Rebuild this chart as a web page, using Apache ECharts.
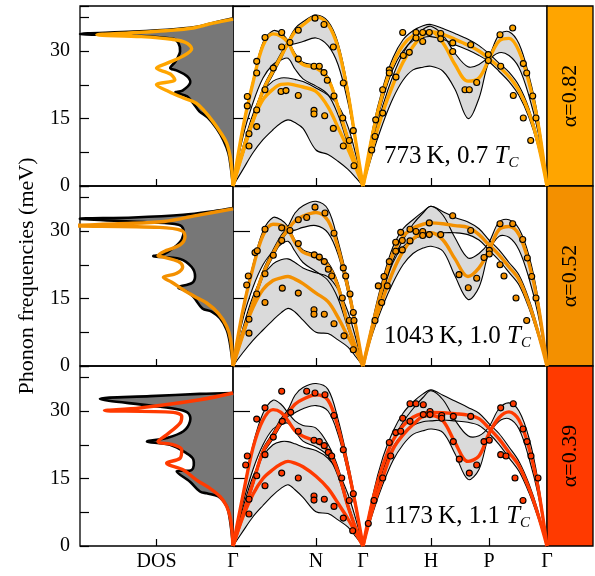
<!DOCTYPE html>
<html><head><meta charset="utf-8">
<script src="https://cdn.jsdelivr.net/npm/echarts@6/dist/echarts.min.js"></script>
<style>html,body{margin:0;padding:0;background:#fff}#c{width:595px;height:576px}</style>
</head><body><div id="c"></div>
<script>
// ---------- path coordinates & labels ----------
const kGN = [0,10,20,30,40,48,55,62,70,83,95,105,115,123,130];
const kGHPG = [130,140,150,160,170,180,190,198,210,222,235,246,256,266,276,286,296,305,314];
const kTicks = [0,83,130,198,256,314];
const kTickLabels = ['Γ','N','Γ','H','P','Γ'];
const tempLabels = ['773\u2009K, 0.7 ','1043\u2009K, 1.0 ','1173\u2009K, 1.1 '];
const alphaLabels = ['α=0.82','α=0.52','α=0.39'];

// ---------- 773 K ----------
const gnLAlo773 = [0,7,14,20.6,24.8,28.2,31.2,31.6,32.1,32.9,31.2,27,18.5,9,0];
const gnLAhi773 = [0,7.8,15.2,21.8,26.2,29.5,32.2,35,36.5,38,36.6,31.8,21.6,10.2,0];
const gnLAmid773 = [0,7.5,14.5,21.2,25.5,28.8,31.7,34.3,35.8,37.6,35.9,30.8,20.5,9.5,0];
const gnT1lo773 = [0,11,18.5,24,27,28,28.4,26,23.8,22.2,20.3,15.8,9.2,4,0];
const gnT1hi773 = [0,13.5,23.6,31.9,34.5,34,32.4,29.5,27.5,26.7,24.3,18.2,10.9,5.2,0];
const gnT1mid773 = [0,13,23,31.2,33.8,33.3,31.9,28.9,27,26.2,23.8,17.6,10.3,4.8,0];
const gnT2lo773 = [0,3.7,7.4,10.3,12.5,14,14.7,14.1,12.8,8,7,5.5,3.7,1.8,0];
const gnT2hi773 = [0,8.8,16,21,23.3,24,24,23.7,23.2,21.8,20.2,18,13.2,6.8,0];
const gnT2mid773 = [0,8,14.5,19.2,21.5,22.6,22.7,22.4,22,21,17.6,13,8.2,4,0];
const hpAlo773 = [0,11,19.5,26,30,32.3,33,33.2,32.6,31.4,30.2,29,27.6,25.5,23.2,20.1,15.2,8.8,0];
const hpAhi773 = [0,13,22,28.5,32.5,34.5,35.6,35.9,35,33.9,32.6,31.2,29.4,27.3,25.3,22.3,17.2,10.3,0];
const hpAmid773 = [0,12,20.8,27.2,31.3,33.4,34.2,34.3,33.7,32.6,31.3,30,28.3,26.5,24.3,21.2,16.3,9.5,0];
const hpBlo773 = [0,7.5,14,19.5,23.5,25.8,26.4,26.6,25.5,21.5,15,19.5,27.6,29.6,29,26.3,20,12,0];
const hpBhi773 = [0,10,18,24.5,29.5,32.8,34.8,35.5,33.5,29.5,26.5,27,29,33.6,34.3,31.6,24.5,15.2,0];
const hpBmid773 = [0,9,16.5,22.5,27.5,31,33.5,34.3,31.8,27,23.3,24,28.2,32.2,32.8,30,23,14,0];
const dots773 = [[14.3,19.9],[14.3,17.8],[23.7,27.7],[23.7,25.1],[32,33],[48.7,34.1],[65.3,34.6],[57,31.9],[48.7,30.9],[40.3,26.2],[65.3,28.2],[82,37.3],[91,35.9],[100.3,30.9],[81,26.6],[86.3,26.6],[91,25.2],[94.3,23.5],[110.3,22.9],[101,20],[32,21.4],[23.7,16.9],[23.7,13.2],[16,11.6],[16,8.9],[48,21],[53,21.2],[65.3,20.1],[81,16.8],[81,16],[91.7,15.6],[100.3,12.8],[109.7,15.1],[110.3,8.9],[116.3,10.1],[120.3,12.3],[121,4.5],
 [138.7,8],[142,11],[142.7,14.7],[149.7,21.4],[149.7,16.2],[156.3,25.8],[156.3,25.1],[163,24.2],[169.7,34.1],[170.3,29],[176.3,29.7],[183,34.1],[183,32.9],[189.7,34.1],[189.7,32.1],[196.3,34.1],[207.7,33.9],[207.7,32.7],[219.7,31.8],[219.7,29.9],[237.7,31.4],[232,21.4],[236.3,21.4],[243.7,23],[255.3,29.2],[255.3,27.9],[267,33.6],[279.7,35.1],[267.7,26.6],[280.3,20.1],[290.3,27.2],[293.7,25.1],[299.7,20],[290.3,15.1],[303,15.1],[297.7,10.1]];
const dosE773 = [0,4.3,7.3,10.2,12.8,15.2,16.6,18.4,19.9,20.8,21.2,22.9,24.4,25.7,26.2,27.7,29.9,31.8,32.7,33.4,33.8,34.3,34.9,35.5,36.4,37.3];
const dos773 = [0,0.015,0.03,0.063,0.107,0.165,0.22,0.26,0.3,0.377,0.33,0.28,0.3,0.37,0.41,0.375,0.346,0.357,0.39,0.65,1.0,0.65,0.37,0.216,0.114,0];
const fitE773 = [0,5.8,9.5,12.1,14.3,16.6,18.4,19.5,21,22.5,23.6,24.9,26.2,27.3,28.8,30.5,31.9,32.6,33.2,33.6,34,34.5,35.1,36.2,37.1];
const fit773 = [0,0.015,0.041,0.085,0.13,0.185,0.24,0.32,0.42,0.5,0.38,0.41,0.5,0.43,0.33,0.27,0.31,0.4,0.6,0.89,0.68,0.44,0.26,0.13,0];

// ---------- 1043 K ----------
const gnLAlo1043 = [0,6.6,13.4,19.8,24.3,27.5,29.8,30.2,30.8,31.2,29.6,24.8,16.2,7.9,0];
const gnLAhi1043 = [0,7.4,14.6,21.2,25.8,29,31,34,35.6,36.6,34.8,27.8,18.6,9.4,0];
const gnLAmid1043 = [0,7,14,20.5,25,28.2,30.3,32.2,33.3,34.1,32.3,26.3,17.3,8.6,0];
const gnT1lo1043 = [0,10.5,17.5,22.5,25.5,27,27.7,25.5,23,21,19,15,8.3,3.6,0];
const gnT1hi1043 = [0,13,22.5,30,33,32.5,31,28,25.8,24.8,23,18.5,9.8,4.4,0];
const gnT1mid1043 = [0,12.5,21.8,29,31.5,31.3,30.3,27.5,25.3,24.2,22.3,17.7,9.2,4,0];
const gnT2lo1043 = [0,3,5.7,8,10.2,11.8,12.8,12,10.2,7.5,7.2,5.8,4.2,2,0];
const gnT2hi1043 = [0,8.5,15.5,20,22.7,23.6,23.8,23,21.8,20.7,19.8,17,12,6,0];
const gnT2mid1043 = [0,7.5,13,17,19,19.6,19.9,19.3,18.3,16.2,14.3,10.8,6.5,3.2,0];
const hpAlo1043 = [0,8.5,16.5,23,26.5,28.2,29,29.3,29.6,29.6,29.2,28,25.8,23.5,20.8,18,12.8,6.8,0];
const hpAhi1043 = [0,10.5,19.5,26.5,30.5,32.5,34.3,35.5,34.3,33,32,30.5,28,25.8,23,20.2,14.8,8.2,0];
const hpAmid1043 = [0,9.5,18,25,28.8,30.6,31.5,31.8,31.6,31.2,30.8,29.2,26.9,24.7,22,19.2,13.8,7.5,0];
const hpBlo1043 = [0,7.5,13.5,18.5,22.5,25,26.2,26.6,25.5,20,14.8,17.5,25.3,28.8,28.6,25.8,19.5,11.5,0];
const hpBhi1043 = [0,9.5,17,23.5,28,31.5,34,35.5,33.5,28.5,24,25,27.5,32,32.5,30.5,24.5,15,0];
const hpBmid1043 = [0,8.5,15,21,25.5,28.2,29.5,29.6,28,23.8,19.9,21.8,25.7,30.3,31,29.2,22.8,13.8,0];
const dots1043 = [[13.7,18],[15.3,20],[22,25.2],[24.3,25.6],[32,30.4],[48.7,30.7],[57,30.1],[48.7,27.9],[65.3,27.2],[65.3,32.5],[73.7,33],[82,35.3],[92,34],[101,29.5],[40.3,24.6],[81.3,24.7],[86.3,24.2],[91.3,23.2],[95.3,21.5],[98.7,20],[110.3,21.8],[112.7,20],[32,20.5],[23.7,16],[32,14.1],[16,10.4],[16,7.3],[49.3,17.3],[65.3,16.2],[81,12.5],[81,11.5],[91.3,11.5],[101,9.4],[109.3,15.1],[117,16],[116.3,10.1],[121,10.1],[120.3,11.9],[111,6.7],[120.3,3.6],
 [142,10.1],[145.3,17.8],[148.7,14.1],[151,19.9],[154.3,17.8],[156.3,23.2],[162.7,27.5],[167.7,29.7],[169.3,27.9],[169.3,25.8],[162.7,25.5],[177,27.8],[177,30.4],[183,29.9],[189.7,29.9],[189.7,29],[196.3,31.8],[196.3,29.2],[207.7,29.2],[219.7,33.4],[237.7,30.1],[226,20.3],[235.3,17.4],[243.7,19.5],[251,24.1],[256.3,25.7],[256.3,24.9],[267,31.6],[279.7,31.6],[267,22.5],[271,20],[289.7,28.1],[294.3,24],[298.7,19.9],[283,15.1],[303,15.1],[293.7,10.1]];
const dosE1043 = [0,5,8,10.6,12.1,12.8,15.4,16.6,17.5,18.4,19.9,22,23.8,24.4,24.9,26.2,28.1,30.3,31.4,31.9,32.7,33,33.6,34.4,35.1];
const dos1043 = [0,0.02,0.041,0.085,0.14,0.2,0.26,0.303,0.357,0.27,0.248,0.27,0.346,0.52,0.45,0.39,0.335,0.324,0.357,0.54,1.0,0.65,0.324,0.128,0];
const fitE1043 = [0,5.8,8.8,11.7,14,15.4,16.9,18.6,19.7,20.6,22,23.2,24.2,24.5,25.7,26.9,28.8,30.1,30.8,31.2,31.6,32.1,33.6,34.9];
const fit1043 = [0,0.015,0.041,0.096,0.172,0.248,0.324,0.4,0.455,0.368,0.329,0.357,0.455,0.49,0.434,0.346,0.314,0.335,0.48,1.05,0.75,0.45,0.216,0];

// ---------- 1173 K ----------
const gnLAlo1173 = [0,6.6,13.4,20.4,23.8,26.8,28.8,29.6,30.5,31.2,30,24.8,16.2,7.9,0];
const gnLAhi1173 = [0,7.4,14.6,21.6,25.2,28.3,30.3,33.5,35.2,36.1,34.8,28.2,18.6,9.4,0];
const gnLAmid1173 = [0,7,14,21,24.5,27.5,29.5,31.5,32.6,33.6,32.4,26.4,17.3,8.6,0];
const gnT1lo1173 = [0,9.5,17,22.5,26,27,27.3,25.5,23.3,22,20,15.5,8.3,3.5,0];
const gnT1hi1173 = [0,11.8,22.5,29.5,32.4,31.5,29.6,27.8,26.8,26.2,22.6,17.5,9.6,4.2,0];
const gnT1mid1173 = [0,11.3,21.8,28,30.3,29.7,27.8,25.6,24.4,23.2,21.2,16.5,8.8,3.8,0];
const gnT2lo1173 = [0,3.3,6.5,9,11.3,12.8,13.6,12.5,10.8,7.6,7.2,5.8,4.2,2,0];
const gnT2hi1173 = [0,8.5,15.5,20,22.5,23.2,23.2,22.7,22,21.2,19.5,16.5,11.5,5.8,0];
const gnT2mid1173 = [0,6.5,11.5,15,17,18.2,18.8,18.4,17.6,15.5,12.8,9.5,6,2.8,0];
const hpAlo1173 = [0,9.5,17,22,25,26.8,27.6,27.8,28,27.8,27.5,26.8,25,22.6,19.6,16.6,11.8,6.3,0];
const hpAhi1173 = [0,11.5,19.8,25.5,29.5,32,33.8,34.7,33.5,32.2,30.8,29.5,27.2,25,22,18.8,13.8,7.8,0];
const hpAmid1173 = [0,10.5,18,23.5,26.7,28.6,29.5,29.7,29.6,29.4,29.1,28.3,26.2,23.8,20.8,17.8,12.8,7,0];
const hpBlo1173 = [0,7.5,13.8,19,22.5,24.8,25.6,26,25.2,20.5,14.8,17,24.5,27.7,28.3,26,19.5,11.5,0];
const hpBhi1173 = [0,9.5,17,23.5,27.5,30.5,33,34.5,32.5,28,24.5,24.5,26.5,30.5,31.8,30,24,14.5,0];
const hpBmid1173 = [0,8.5,15.3,21.5,24.7,27,28.8,29,27.8,23,18.8,20,25,28.5,29.8,28,21.8,13,0];
const dots1173 = [[12.7,18],[14.3,20],[16,7.1],[16,10.4],[23.7,15.6],[23.7,28.2],[32,30.7],[32,20.3],[32,13.4],[40.3,24.2],[48.7,34.4],[48.7,16.2],[49.3,27.7],[57.7,29.7],[65.3,25.5],[65.3,15.1],[73.7,34.4],[82,34],[92,33.6],[101,29],[81,23.5],[86.3,23.2],[91.3,22.3],[95.3,20.8],[98.7,20],[110.3,21.4],[108.7,15.1],[81,11.1],[81,10.2],[91.3,10.4],[101,8.8],[110.3,6.2],[116.3,10.1],[120.3,11.6],[119.7,3.4],
 [135.3,5],[141,10.1],[149.7,15.1],[157.7,20],[156.3,23],[162.7,25.2],[167.7,25.5],[169.7,28.4],[177,27.7],[177,31.6],[183,31.6],[190.3,31.4],[190.3,29.2],[197,29.9],[197,29.2],[208.7,29],[208.7,28.4],[220.3,28.8],[220.3,23.2],[237.7,28.8],[226.3,19.3],[236.3,16.2],[243.7,18],[251,23.2],[256.3,23.5],[267.7,30.7],[280.3,31.6],[267.7,20.3],[273,20],[290,26],[294,23.2],[298,20],[282,15.1],[305,15.1],[290,10.1]];
const dosE1173 = [0,5.8,8.8,11,11.7,12.1,14.3,16.6,16.9,19.2,20.6,22.5,23.2,24,25.5,27.7,29.5,30.3,31.2,32.7,33.3,33.8,34];
const dos1173 = [0,0.02,0.041,0.096,0.172,0.216,0.281,0.368,0.27,0.259,0.303,0.412,0.562,0.434,0.324,0.281,0.292,0.346,0.54,0.87,0.54,0.216,0];
const fitE1173 = [0,5.8,8.8,11,12.8,14.7,16.9,18.4,19.5,21.4,22.5,23.2,24.7,27.3,28.8,29.7,30.1,30.7,32.5,34];
const fit1173 = [0,0.015,0.041,0.085,0.15,0.24,0.324,0.434,0.346,0.335,0.39,0.49,0.434,0.346,0.335,0.39,0.84,0.608,0.216,0];

// ---------- styling ----------
const FONT = 'Liberation Serif';
const rowColors = ['#FFA500','#F39000','#FF3A00'];
const S = 0.35;

const rows = [
  {gn:[[gnLAlo773,gnLAhi773,gnLAmid773],[gnT1lo773,gnT1hi773,gnT1mid773],[gnT2lo773,gnT2hi773,gnT2mid773]],
   hp:[[hpAlo773,hpAhi773,hpAmid773],[hpBlo773,hpBhi773,hpBmid773]], dots:dots773,
   dos:[dosE773,dos773], fit:[fitE773,fit773]},
  {gn:[[gnLAlo1043,gnLAhi1043,gnLAmid1043],[gnT1lo1043,gnT1hi1043,gnT1mid1043],[gnT2lo1043,gnT2hi1043,gnT2mid1043]],
   hp:[[hpAlo1043,hpAhi1043,hpAmid1043],[hpBlo1043,hpBhi1043,hpBmid1043]], dots:dots1043,
   dos:[dosE1043,dos1043], fit:[fitE1043,fit1043]},
  {gn:[[gnLAlo1173,gnLAhi1173,gnLAmid1173],[gnT1lo1173,gnT1hi1173,gnT1mid1173],[gnT2lo1173,gnT2hi1173,gnT2mid1173]],
   hp:[[hpAlo1173,hpAhi1173,hpAmid1173],[hpBlo1173,hpBhi1173,hpBmid1173]], dots:dots1173,
   dos:[dosE1173,dos1173], fit:[fitE1173,fit1173]}
];

function bandSeries(xi, yi, ks, lo, hi) {
  return {type:'custom', xAxisIndex:xi, yAxisIndex:yi, z:2, silent:true, data:[[0,0]],
    renderItem(params, api) {
      const up = ks.map((k,i)=>api.coord([k,hi[i]]));
      const dn = ks.map((k,i)=>api.coord([k,lo[i]]));
      const poly = up.concat(dn.slice(1,-1).reverse());
      return {type:'group', children:[
        {type:'polygon', z2:1, shape:{points:poly, smooth:S}, style:{fill:'#dadada'}},
        {type:'polyline', z2:20, shape:{points:up, smooth:S}, style:{stroke:'#000', lineWidth:1.1, fill:null}},
        {type:'polyline', z2:20, shape:{points:dn, smooth:S}, style:{stroke:'#000', lineWidth:1.1, fill:null}}
      ]};
    }};
}
function dosSeries(xi, yi, E, d) {
  return {type:'custom', xAxisIndex:xi, yAxisIndex:yi, z:2, silent:true, data:[[0,0]],
    renderItem(params, api) {
      const pts = E.map((e,i)=>api.coord([d[i], e]));
      const eTop = E[E.length-1];
      const poly = pts.concat([api.coord([0, eTop-0.8]), api.coord([0, 0.8])]);
      return {type:'group', children:[
        {type:'polygon', z2:1, shape:{points:poly, smooth:S}, style:{fill:'#777777'}},
        {type:'polyline', z2:20, shape:{points:pts, smooth:S}, style:{stroke:'#000', lineWidth:2.6, fill:null}}
      ]};
    }};
}
function lineSeries(xi, yi, data, color, z) {
  return {type:'line', xAxisIndex:xi, yAxisIndex:yi, data, smooth:S, showSymbol:false, symbol:'none',
    clip:false, z, silent:true, lineStyle:{color, width:3.4}};
}

const grid = [], xAxis = [], yAxis = [], series = [], graphic = [];
const tickStyle = {color:'#000', width:1.2};
rows.forEach((row, r) => {
  const top = 6 + 180*r;
  const color = rowColors[r];
  grid.push({left:80, top, width:153, height:180, show:true, borderColor:'#000', borderWidth:1.3, backgroundColor:'rgba(0,0,0,0)', containLabel:false, outerBoundsMode:'none'});
  grid.push({left:233, top, width:314, height:180, show:true, borderColor:'#000', borderWidth:1.3, backgroundColor:'rgba(0,0,0,0)', containLabel:false, outerBoundsMode:'none'});
  grid.push({left:547, top, width:46, height:180, show:true, borderColor:'#000', borderWidth:1.3, backgroundColor:color, containLabel:false, outerBoundsMode:'none'});
  const g = 3*r;
  xAxis.push({gridIndex:g, type:'value', min:0, max:1, inverse:true, axisLine:{show:false}, splitLine:{show:false},
    axisTick:{show:true, inside:true, length:7, customValues:[0.5], lineStyle:tickStyle},
    axisLabel:{show:r===2, customValues:[0.5], formatter:()=>'DOS', fontFamily:FONT, fontSize:20, color:'#000', margin:6}});
  xAxis.push({gridIndex:g+1, type:'value', min:0, max:314, axisLine:{show:false}, splitLine:{show:false},
    axisTick:{show:true, inside:true, length:8, customValues:[83,130,198,256], lineStyle:tickStyle},
    axisLabel:{show:r===2, customValues:kTicks, formatter:(v)=>kTickLabels[kTicks.indexOf(v)] || '', fontFamily:FONT, fontSize:20, color:'#000', margin:6}});
  xAxis.push({gridIndex:g+2, type:'value', show:false, min:0, max:1});
  const y = 4*r;
  yAxis.push({gridIndex:g, type:'value', position:'left', offset:0, min:0, max:40, interval:15, axisLine:{show:false}, splitLine:{show:false},
    axisTick:{show:true, inside:true, length:17, lineStyle:tickStyle},
    axisLabel:{formatter:(v)=>(v%15===0 && v<40) ? String(v) : '', fontFamily:FONT, fontSize:20, color:'#000', margin:10}});
  yAxis.push({gridIndex:g, type:'value', position:'left', offset:0, min:0, max:40, interval:7.5, axisLine:{show:false}, splitLine:{show:false},
    axisTick:{show:true, inside:true, length:9, lineStyle:tickStyle}, axisLabel:{show:false}});
  yAxis.push({gridIndex:g+1, type:'value', min:0, max:40, show:false});
  yAxis.push({gridIndex:g+2, type:'value', min:0, max:1, show:false});

  // DOS
  series.push(dosSeries(g, y, row.dos[0], row.dos[1]));
  series.push(lineSeries(g, y, row.fit[0].map((e,i)=>[row.fit[1][i], e]), color, 4));
  // dispersion bands
  row.gn.forEach(b => series.push(bandSeries(g+1, y+2, kGN, b[0], b[1])));
  row.hp.forEach(b => series.push(bandSeries(g+1, y+2, kGHPG, b[0], b[1])));
  row.gn.forEach(b => series.push(lineSeries(g+1, y+2, kGN.map((k,i)=>[k,b[2][i]]), color, 3)));
  row.hp.forEach(b => series.push(lineSeries(g+1, y+2, kGHPG.map((k,i)=>[k,b[2][i]]), color, 3)));
  series.push({type:'scatter', xAxisIndex:g+1, yAxisIndex:y+2, data:row.dots, symbolSize:6, z:5, clip:false, silent:true,
    itemStyle:{color, borderColor:'#000', borderWidth:1.1, opacity:1}});

  graphic.push({type:'text', x:384, y:top+150, z:20, silent:true, style:{
    text:'{a|'+tempLabels[r]+'}{b|T}{c|C}',
    textAlign:'left', textVerticalAlign:'middle', align:'left', verticalAlign:'middle',
    rich:{a:{fontSize:25, fontFamily:FONT, lineHeight:30, fill:'#000', color:'#000'},
          b:{fontSize:25, fontFamily:FONT, fontStyle:'italic', lineHeight:30, fill:'#000', color:'#000'},
          c:{fontSize:15, fontFamily:FONT, fontStyle:'italic', lineHeight:18, verticalAlign:'bottom', fill:'#000', color:'#000'}}}});
  graphic.push({type:'text', x:570, y:top+90, rotation:Math.PI/2, z:20, silent:true, style:{
    text:alphaLabels[r], fontSize:22, fontFamily:FONT, fill:'#000',
    textAlign:'center', textVerticalAlign:'middle', align:'center', verticalAlign:'middle'}});
});
graphic.push({type:'text', x:27, y:276, rotation:Math.PI/2, z:20, silent:true, style:{
  text:'Phonon frequencies (meV)', fontSize:22, fontFamily:FONT, fill:'#000',
  textAlign:'center', textVerticalAlign:'middle', align:'center', verticalAlign:'middle'}});

const chart = echarts.init(document.getElementById('c'), null, {renderer:'canvas', width:595, height:576});
chart.setOption({animation:false, backgroundColor:'#fff', grid, xAxis, yAxis, series, graphic});
</script></body></html>
